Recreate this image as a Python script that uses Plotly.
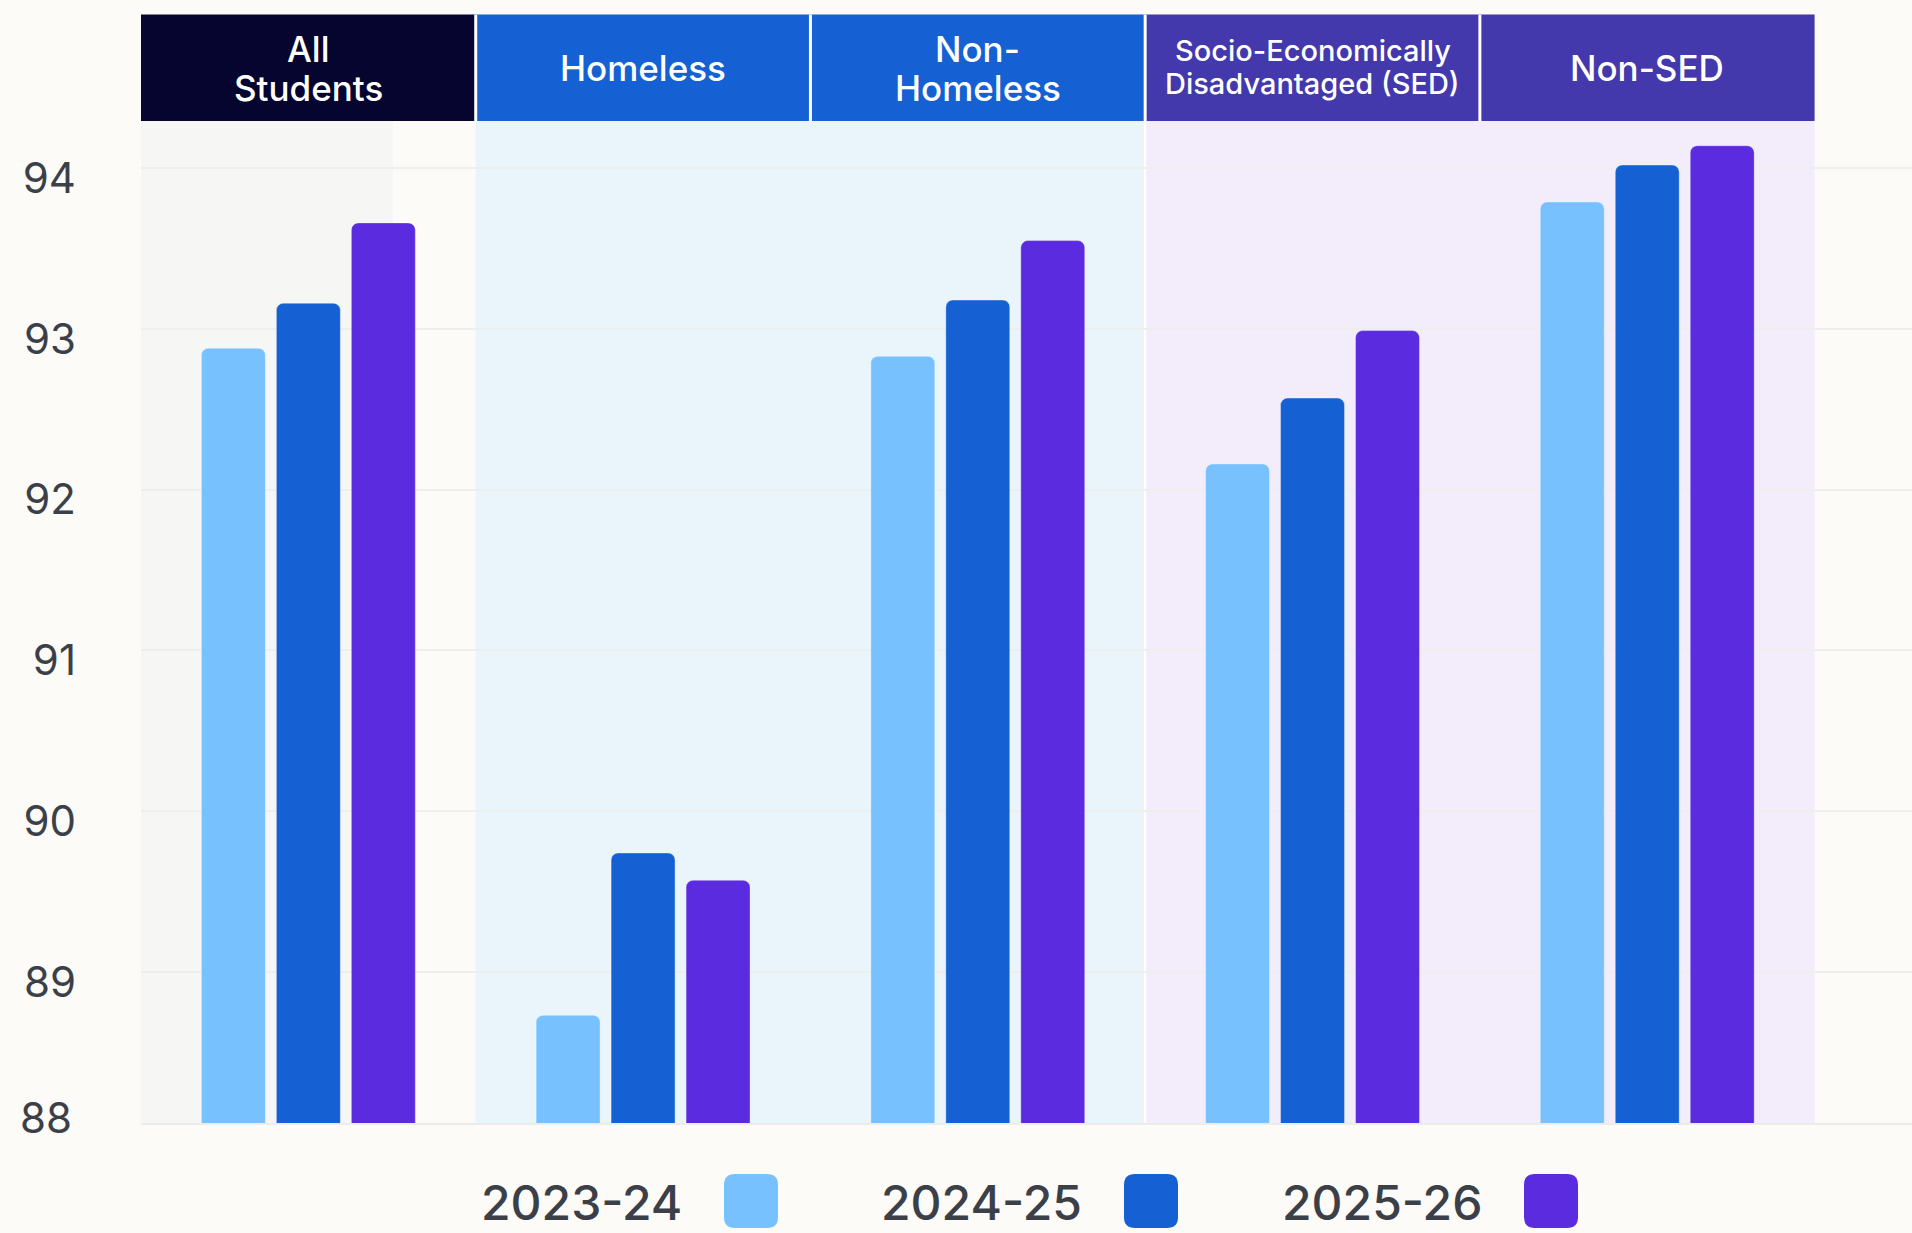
import plotly.graph_objects as go

# ---------------- data ----------------
categories = ["All Students", "Homeless", "Non-Homeless",
              "Socio-Economically Disadvantaged (SED)", "Non-SED"]
header_lines = [["All", "Students"], ["Homeless"], ["Non-", "Homeless"],
                ["Socio-Economically", "Disadvantaged (SED)"], ["Non-SED"]]
series_names = ["2023-24", "2024-25", "2025-26"]
values_2023_24 = [92.88, 88.73, 92.83, 92.16, 93.79]
values_2024_25 = [93.16, 89.74, 93.18, 92.57, 94.02]
values_2025_26 = [93.66, 89.57, 93.55, 92.99, 94.14]
y_tick_vals = [89, 90, 91, 92, 93, 94]
y_tick_text = ["89", "90", "91", "92", "93", "94"]
y_bottom_label = "88"

# ---------------- style ----------------
W, H = 1912, 1233
ML, MR, MT, MB = 141, 0, 121, 110
PLOT_W = W - ML - MR
PLOT_H = H - MT - MB
PAGE_BG = "#fcfbf8"
COLORS = ["#77c1ff", "#1561d4", "#5b2bdf"]
HEADER_COLORS = ["#06052f", "#1561d4", "#1561d4", "#4338ac", "#4338ac"]
TEXT_COLOR = "#3b4048"
FONT = "Inter"
Y_RANGE = [88.06, 94.294]
X_RANGE = [-0.5, 4.791]
HEADER_TOP_PX = 14.6


def px_to_paper_x(px):
    return (px - ML) / PLOT_W


def px_to_paper_y(py):
    return (H - MB - py) / PLOT_H


series_values = [values_2023_24, values_2024_25, values_2025_26]

fig = go.Figure()
for name, vals, col in zip(series_names, series_values, COLORS):
    fig.add_trace(go.Bar(
        x=categories, y=vals, name=name,
        marker=dict(color=col, line=dict(width=1, color="rgba(255,255,255,0.35)")),
        showlegend=False, hoverinfo="x+y+name",
    ))

shapes = []
# background shading
bands = [(-0.5, 0.252, "#f6f6f4"), (0.5, 2.5, "#eaf5fb"), (2.5, 4.5, "#f3ecfa")]
for x0, x1, c in bands:
    shapes.append(dict(type="rect", xref="x", yref="paper", x0=x0, x1=x1, y0=0, y1=1,
                       fillcolor=c, line=dict(width=0), layer="below"))
shapes.append(dict(type="line", xref="x", yref="paper", x0=2.5, x1=2.5, y0=0, y1=1,
                   line=dict(color="white", width=2), layer="below"))

# header boxes
header_y1 = px_to_paper_y(HEADER_TOP_PX)
for i, c in enumerate(HEADER_COLORS):
    shapes.append(dict(type="rect", xref="x", yref="paper", x0=i - 0.5, x1=i + 0.5,
                       y0=1, y1=header_y1, fillcolor=c, line=dict(width=0), layer="above"))
for i in range(1, len(categories)):
    shapes.append(dict(type="line", xref="x", yref="paper", x0=i - 0.5, x1=i - 0.5,
                       y0=1, y1=header_y1, line=dict(color="white", width=3), layer="above"))

annotations = []
# header texts
for i, lines in enumerate(header_lines):
    if len(lines) == 1:
        centers, size = [67.8], 35
    elif i == 3:
        centers, size = [50.5, 83.0], 29
    else:
        centers, size = [49.0, 88.0], 35
    for line, cy in zip(lines, centers):
        annotations.append(dict(
            x=i, xref="x", y=1, yref="paper", yshift=MT - cy,
            text=line, showarrow=False, xanchor="center", yanchor="middle",
            font=dict(family=FONT, size=size, color="white", weight=500),
        ))

# bottom y label (sits just above the axis baseline, as in the reference)
annotations.append(dict(
    x=0, xref="paper", y=Y_RANGE[0], yref="y", xshift=-67, yshift=6,
    text=y_bottom_label, showarrow=False, xanchor="right", yanchor="middle",
    font=dict(family=FONT, size=42, color=TEXT_COLOR),
))


# manual legend (text left of rounded swatch)
def rrect_path(x0, y0, x1, y1, rx, ry):
    return (f"M {x0 + rx},{y0} L {x1 - rx},{y0} Q {x1},{y0} {x1},{y0 + ry} "
            f"L {x1},{y1 - ry} Q {x1},{y1} {x1 - rx},{y1} L {x0 + rx},{y1} "
            f"Q {x0},{y1} {x0},{y1 - ry} L {x0},{y0 + ry} Q {x0},{y0} {x0 + rx},{y0} Z")


SW_LEFT0, SW_SIZE, SW_TOP, ITEM_STEP, TEXT_GAP, RAD = 724, 54, 1174, 400, 40, 11
for k, (name, col) in enumerate(zip(series_names, COLORS)):
    sx0 = SW_LEFT0 + k * ITEM_STEP
    sx1 = sx0 + SW_SIZE
    x0, x1 = px_to_paper_x(sx0), px_to_paper_x(sx1)
    y1, y0 = px_to_paper_y(SW_TOP), px_to_paper_y(SW_TOP + SW_SIZE)
    shapes.append(dict(type="path", xref="paper", yref="paper",
                       path=rrect_path(x0, y0, x1, y1, RAD / PLOT_W, RAD / PLOT_H),
                       fillcolor=col, line=dict(width=0), layer="above"))
    annotations.append(dict(
        x=px_to_paper_x(sx0 - TEXT_GAP), xref="paper",
        y=px_to_paper_y(SW_TOP + SW_SIZE / 2 + 1), yref="paper",
        text=name, showarrow=False, xanchor="right", yanchor="middle",
        font=dict(family=FONT, size=48, color=TEXT_COLOR, weight=500),
    ))

fig.update_layout(
    width=W, height=H,
    margin=dict(l=ML, r=MR, t=MT, b=MB, pad=0),
    paper_bgcolor=PAGE_BG, plot_bgcolor=PAGE_BG,
    barmode="group", bargap=0.328, bargroupgap=0.147, barcornerradius=7,
    shapes=shapes, annotations=annotations,
    showlegend=False,
    font=dict(family=FONT, color=TEXT_COLOR),
)
fig.update_xaxes(range=X_RANGE, showticklabels=False, showgrid=False, zeroline=False,
                 showline=True, linecolor="#ececea", linewidth=2, ticks="")
fig.update_yaxes(range=Y_RANGE, tickvals=y_tick_vals, ticktext=y_tick_text,
                 showgrid=True, gridcolor="#eeeeec", gridwidth=2, zeroline=False,
                 showline=False, ticks="", ticklabelstandoff=64, ticklabelshift=10,
                 tickfont=dict(family=FONT, size=42, color=TEXT_COLOR))

fig.write_html(
    "out.html",
    config={"displayModeBar": False},
    post_script="document.body.style.margin='0';document.body.style.overflow='hidden';"
                "document.body.style.background='" + PAGE_BG + "';",
)
